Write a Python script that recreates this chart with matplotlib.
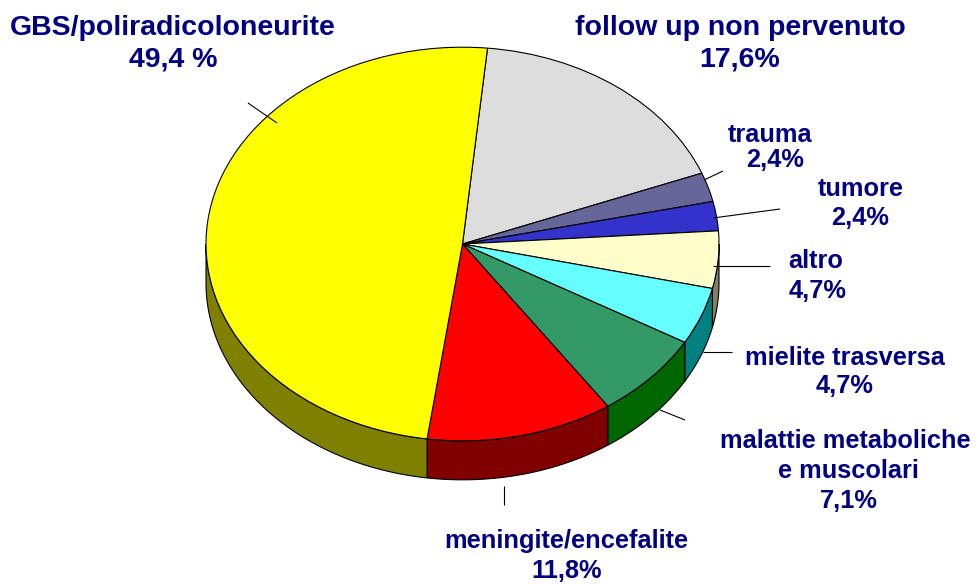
import numpy as np
import matplotlib
matplotlib.use("Agg")
import matplotlib.pyplot as plt

# slices, clockwise from the top
categories = ["follow up non pervenuto", "trauma", "tumore", "altro", "mielite trasversa",
              "malattie metaboliche e muscolari", "meningite/encefalite", "GBS/poliradicoloneurite"]
values = [17.6, 2.4, 2.4, 4.7, 4.7, 7.1, 11.8, 49.4]
top_colors = ["#DDDDDD", "#666699", "#3333CC", "#FFFFCC", "#66FFFF", "#339966", "#FF0000", "#FFFF00"]
side_colors = ["#6E6E6E", "#333350", "#1A1A66", "#808066", "#008080", "#006600", "#800000", "#808000"]

W, H = 976, 585
CX, CY, RX, RY = 462.5, 244, 256.5, 196.8
DEPTH = 39 / RY
NAVY = "#000080"


def px(x, y):
    return (x - CX) / RX, (CY - y) / RY


plt.rcParams['font.family'] = ['Liberation Sans', 'DejaVu Sans']
fig = plt.figure(figsize=(W / 100, H / 100), dpi=100)
ax = fig.add_axes([0, 0, 1, 1])

wedges, _ = ax.pie(values, colors=top_colors, startangle=84.4, counterclock=False, radius=1,
                   wedgeprops=dict(edgecolor="black", linewidth=0.8, zorder=3))

# the aspect has to be free, the pie is a tilted ellipse
ax.set_aspect("auto")
ax.set_xlim(*[px(0, 0)[0], px(W, 0)[0]])
ax.set_ylim(px(0, H)[1], px(0, 0)[1])
ax.axis("off")

# outer rim, only the part on the lower half is visible
for w, col in zip(wedges, side_colors):
    a = max(w.theta1, -180)
    b = min(w.theta2, 0)
    if b <= a:
        continue
    t = np.radians(np.linspace(a, b, 80))
    xs = np.concatenate([np.cos(t), np.cos(t[::-1])])
    ys = np.concatenate([np.sin(t), np.sin(t[::-1]) - DEPTH])
    ax.fill(xs, ys, facecolor=col, edgecolor="black", linewidth=0.8, zorder=2)

# leader lines
leaders = [((704, 180), (723, 171)), ((713, 218), (780, 209)), ((713, 266), (770, 266)),
           ((703, 352), (732, 352)), ((660, 410), (685, 420)), ((504, 486), (504, 505)),
           ((248, 103), (277, 123))]
for p0, p1 in leaders:
    x0, y0 = px(*p0)
    x1, y1 = px(*p1)
    ax.plot([x0, x1], [y0, y1], color="black", lw=0.8, zorder=4, solid_capstyle="butt")

# labels: text, centre x, centre y of the block
labels = [("GBS/poliradicoloneurite\n49,4 %", 173, 44, 1.28),
          ("follow up non pervenuto\n17,6%", 740, 44, 1.28),
          ("trauma", 770, 135, 1.0),
          ("2,4%", 775, 160, 1.0),
          ("tumore\n2,4%", 860.5, 203.5, 1.28),
          ("altro", 816, 261, 1.0),
          ("4,7%", 818, 291, 1.0),
          ("mielite trasversa\n4,7%", 845, 372, 1.25),
          ("malattie metaboliche", 845, 441, 1.0),
          ("e muscolari\n7,1%", 848.5, 486, 1.28),
          ("meningite/encefalite\n11,8%", 566.5, 556, 1.3)]
for txt, x, y, ls in labels:
    tx, ty = px(x, y)
    big = txt.startswith(("GBS", "follow"))
    ax.text(tx, ty, txt, color=NAVY, fontweight="bold", fontsize=20.5 if big else 18.3,
            ha="center", va="center", linespacing=ls, zorder=5)

fig.savefig("out.png", dpi=100)
